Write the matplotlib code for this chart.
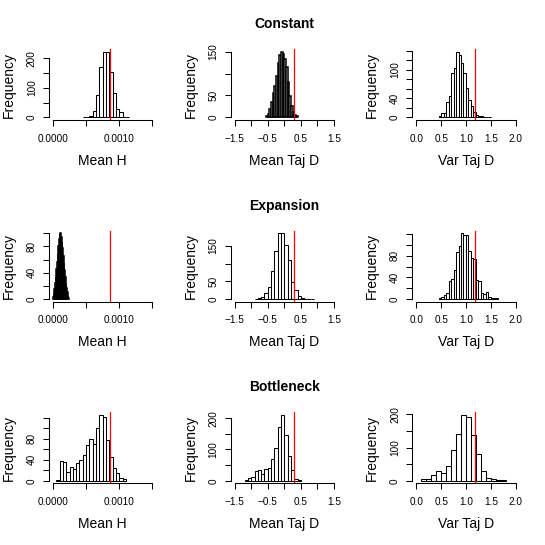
import numpy as np
import matplotlib
matplotlib.use('Agg')
import matplotlib.pyplot as plt

plt.rcParams['font.family'] = ['Liberation Sans', 'DejaVu Sans']

scenarios = ['Constant', 'Expansion', 'Bottleneck']
stat_names = ['Mean H', 'Mean Taj D', 'Var Taj D']
observed = [0.000855, 0.29, 1.19]

# histogram breaks: first break and bin width, per statistic and scenario
const_h_start, const_h_width = 0.00045, 0.00005
const_h_counts = [1, 2, 5, 20, 77, 170, 222, 222, 153, 83, 28, 18, 2, 1]
const_tajd_start, const_tajd_width = -0.55, 0.05
const_tajd_counts = [3, 8, 18, 35, 55, 72, 95, 125, 143, 150, 145, 133, 115, 80,
                     48, 26, 12, 6, 2]
const_var_start, const_var_width = 0.45, 0.05
const_var_counts = [2, 9, 10, 32, 44, 93, 103, 138, 131, 114, 93, 61, 37, 24, 12,
                    5, 3, 2, 1, 1, 1]

exp_h_start, exp_h_width = 0.0, 0.00001
exp_h_counts = [3, 8, 15, 24, 34, 45, 57, 69, 81, 92, 99, 100, 95, 87, 77, 66,
                55, 44, 34, 25, 17, 10, 5, 2]
exp_tajd_start, exp_tajd_width = -0.9, 0.1
exp_tajd_counts = [1, 3, 5, 17, 35, 79, 136, 185, 185, 152, 110, 49, 26, 9, 3,
                   1, 1, 1]
exp_var_start, exp_var_width = 0.45, 0.05
exp_var_counts = [2, 4, 8, 11, 33, 38, 53, 88, 98, 122, 118, 118, 90, 77, 74, 35,
                  33, 12, 9, 13, 3, 2, 1, 1]

bott_h_start, bott_h_width = 0.00005, 0.00005
bott_h_counts = [2, 38, 36, 17, 26, 22, 33, 40, 48, 67, 80, 70, 100, 125, 122,
                 78, 46, 25, 15, 5, 3]
bott_tajd_start, bott_tajd_width = -1.2, 0.1
bott_tajd_counts = [2, 8, 12, 30, 33, 22, 37, 42, 68, 105, 170, 210, 145, 80, 33,
                    6, 3]
bott_var_start, bott_var_width = 0.1, 0.1
bott_var_counts = [5, 5, 18, 30, 24, 45, 92, 142, 198, 192, 137, 80, 28, 8, 5,
                   1, 2]

# x axes, one per column
x_ticks = [[0, 0.0005, 0.001, 0.0015],
           [-1.5, -1.0, -0.5, 0.0, 0.5, 1.0, 1.5],
           [0.0, 0.5, 1.0, 1.5, 2.0]]
x_labels = [['0.0000', '', '0.0010', ''],
            ['\u22121.5', '', '\u22120.5', '', '0.5', '', '1.5'],
            ['0.0', '0.5', '1.0', '1.5', '2.0']]

# y axes, one per panel
y_ticks = [[0, 50, 100, 150, 200], [0, 50, 100, 150], [0, 20, 40, 60, 80, 100, 120, 140],
           [0, 20, 40, 60, 80, 100], [0, 50, 100, 150], [0, 20, 40, 60, 80, 100, 120],
           [0, 20, 40, 60, 80, 100, 120], [0, 50, 100, 150, 200], [0, 50, 100, 150, 200]]
y_labels = [['0', '', '100', '', '200'], ['0', '50', '', '150'],
            ['0', '', '40', '', '', '100', '', ''],
            ['0', '', '40', '', '80', ''], ['0', '50', '', '150'],
            ['0', '', '40', '', '80', '', ''], ['0', '', '40', '', '80', '', ''],
            ['0', '', '100', '', '200'], ['0', '', '100', '', '200']]

hists = [(const_h_start, const_h_width, const_h_counts),
         (const_tajd_start, const_tajd_width, const_tajd_counts),
         (const_var_start, const_var_width, const_var_counts),
         (exp_h_start, exp_h_width, exp_h_counts),
         (exp_tajd_start, exp_tajd_width, exp_tajd_counts),
         (exp_var_start, exp_var_width, exp_var_counts),
         (bott_h_start, bott_h_width, bott_h_counts),
         (bott_tajd_start, bott_tajd_width, bott_tajd_counts),
         (bott_var_start, bott_var_width, bott_var_counts)]

W = 545.0
cell = W / 3
pl, pw, pt, ph = 49.0, 107.3, 49.0, 71.0   # plot region inside a cell, pixels

fig = plt.figure(figsize=(5.45, 5.45), dpi=100)

for i, (start, width, counts) in enumerate(hists):
    r, c = divmod(i, 3)
    left = (c * cell + pl) / W
    bottom = 1 - (r * cell + pt + ph) / W
    ax = fig.add_axes([left, bottom, pw / W, ph / W])

    xt = x_ticks[c]
    xr = xt[-1] - xt[0]
    # very narrow bins come out almost solid black in the original
    bin_px = width / (1.08 * xr) * pw
    lw = 0.75 if bin_px > 2 else 1.1

    counts = np.array(counts)
    edges = start + width * np.arange(len(counts) + 1)
    ax.bar(edges[:-1], counts, width=width, align='edge', color='white',
           edgecolor='black', linewidth=lw)
    ax.axvline(observed[c], color='red', linewidth=0.9)

    ax.set_xlim(xt[0] - 0.04 * xr, xt[-1] + 0.04 * xr)
    ym = counts.max()
    ax.set_ylim(-0.04 * ym, ym * 1.04)

    ax.set_xticks(xt, labels=x_labels[c])
    ax.set_yticks(y_ticks[i], labels=y_labels[i])
    for lab in ax.get_yticklabels():
        lab.set_rotation(90)
        lab.set_va('center')
    ax.tick_params(direction='out', length=4.3, width=0.75, labelsize=7.2)
    ax.tick_params(axis='x', pad=5.5)
    ax.tick_params(axis='y', pad=4.5)

    for s in ['top', 'right']:
        ax.spines[s].set_visible(False)
    ax.spines['left'].set_bounds(y_ticks[i][0], y_ticks[i][-1])
    ax.spines['bottom'].set_bounds(xt[0], xt[-1])
    ax.spines['left'].set_linewidth(0.75)
    ax.spines['bottom'].set_linewidth(0.75)

    ax.set_xlabel(stat_names[c], fontsize=10, va='center')
    ax.xaxis.set_label_coords(0.5, -40.7 / ph)
    ax.set_ylabel('Frequency', fontsize=10, va='center')
    ax.yaxis.set_label_coords(-40.2 / pw, 0.5)

    if c == 1:
        ax.set_title(scenarios[r], fontsize=10, fontweight='bold',
                     y=1 + 25 / ph, va='center', pad=0)

fig.savefig('out.png', dpi=100)
